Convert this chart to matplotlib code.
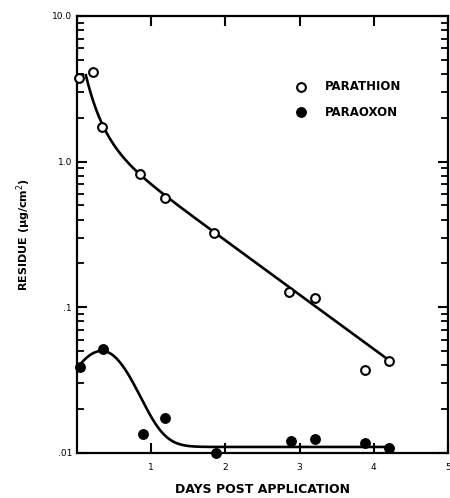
import numpy as np
import matplotlib
matplotlib.use("Agg")
import matplotlib.pyplot as plt
from matplotlib.ticker import LogLocator, FixedLocator, NullFormatter

# ---- data ----
parathion_days = [0.03, 0.21, 0.34, 0.85, 1.18, 1.85, 2.86, 3.21, 3.88, 4.20]
parathion_res = [3.75, 4.13, 1.73, 0.82, 0.56, 0.324, 0.128, 0.116, 0.037, 0.043]

paraoxon_days = [0.04, 0.35, 0.89, 1.19, 1.88, 2.89, 3.21, 3.88, 4.21]
paraoxon_res = [0.039, 0.052, 0.0135, 0.0174, 0.0100, 0.0121, 0.0125, 0.0117, 0.0109]

# fitted-curve parameters (estimated from the drawn curves)
# parathion: log10(y) = c - s*t + k*exp(-t/tau)
parathion_fit = dict(c=0.205, s=0.373, k=0.70, tau=0.25, t0=0.12, t1=4.2)
# paraoxon: base + asymmetric gaussian bump
paraoxon_fit = dict(base=0.011, amp=0.0392, peak=0.336, wl=0.55, wr=0.50, t0=0.05, t1=4.2)

x_ticks = [1, 2, 3, 4, 5]
y_ticks = [0.01, 0.1, 1.0, 10.0]
y_ticklabels = [".01", ".1", "1.0", "10.0"]

plt.rcParams['font.family'] = ['DejaVu Sans']

fig = plt.figure(figsize=(4.5, 4.98), dpi=100)
ax = fig.add_axes([0.171, 0.0904, 0.8246, 0.8776])

# curves
p = parathion_fit
t = np.linspace(p['t0'], p['t1'], 400)
ax.plot(t, 10 ** (p['c'] - p['s'] * t + p['k'] * np.exp(-t / p['tau'])),
        color='black', lw=1.9, zorder=2)
q = paraoxon_fit
t = np.linspace(q['t0'], q['t1'], 400)
w = np.where(t < q['peak'], q['wl'], q['wr'])
ax.plot(t, q['base'] + q['amp'] * np.exp(-((t - q['peak']) / w) ** 2),
        color='black', lw=1.9, zorder=2)

# points
ax.plot(parathion_days, parathion_res, 'o', ms=6.3, mfc='white', mec='black',
        mew=1.5, zorder=3, clip_on=False)
ax.plot(paraoxon_days, paraoxon_res, 'o', ms=6.8, mfc='black', mec='black',
        zorder=3, clip_on=False)

ax.set_yscale('log')
ax.set_xlim(0, 5)
ax.set_ylim(0.01, 10)

ax.xaxis.set_major_locator(FixedLocator(x_ticks))
ax.set_xticklabels([str(v) for v in x_ticks])
ax.yaxis.set_major_locator(FixedLocator(y_ticks))
ax.set_yticklabels(y_ticklabels)
ax.yaxis.set_minor_locator(LogLocator(base=10, subs=np.arange(2, 10)))
ax.yaxis.set_minor_formatter(NullFormatter())

ax.tick_params(axis='both', which='major', direction='in', length=7, width=1.5,
               labelsize=6.5, top=True, right=True)
ax.tick_params(axis='y', which='minor', direction='in', length=5, width=1.3,
               right=True)
ax.tick_params(axis='x', pad=7)
for s in ax.spines.values():
    s.set_linewidth(1.6)

ax.set_xlabel('DAYS POST APPLICATION', fontsize=9, fontweight='bold', labelpad=8)
ax.set_ylabel('RESIDUE (µg/cm$^2$)', fontsize=8, fontweight='bold', labelpad=14)

# legend
ax.plot([3.02], [3.26], 'o', ms=6.3, mfc='white', mec='black', mew=1.5)
ax.text(3.34, 3.26, 'PARATHION', fontsize=8.5, fontweight='bold', va='center')
ax.plot([3.02], [2.19], 'o', ms=6.8, mfc='black', mec='black')
ax.text(3.34, 2.19, 'PARAOXON', fontsize=8.5, fontweight='bold', va='center')

fig.savefig('out.png', dpi=100)
